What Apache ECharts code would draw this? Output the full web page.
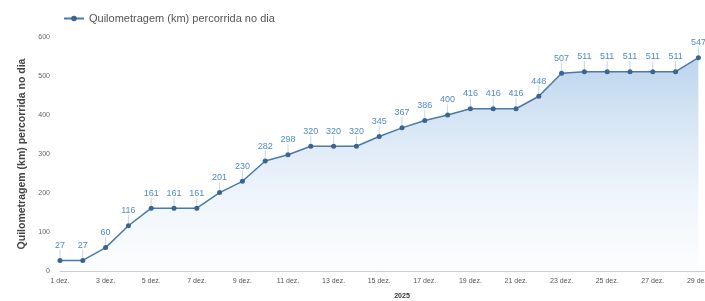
<!DOCTYPE html>
<html>
<head>
<meta charset="utf-8">
<script src="https://cdn.jsdelivr.net/npm/echarts@6/dist/echarts.min.js"></script>
<style>
    html, body { margin: 0; padding: 0; background: #fff; }
    #main { width: 705px; height: 301px; }
</style>
</head>
<body>
<div id="main"></div>
<script type="text/javascript">
    // dias do mês (o gráfico original vai até 31 dez., cortado à direita)
    var dias = ['1 dez.', '2 dez.', '3 dez.', '4 dez.', '5 dez.', '6 dez.', '7 dez.', '8 dez.',
        '9 dez.', '10 dez.', '11 dez.', '12 dez.', '13 dez.', '14 dez.', '15 dez.', '16 dez.',
        '17 dez.', '18 dez.', '19 dez.', '20 dez.', '21 dez.', '22 dez.', '23 dez.', '24 dez.',
        '25 dez.', '26 dez.', '27 dez.', '28 dez.', '29 dez.', '30 dez.', '31 dez.'];

    // quilometragem acumulada
    var km = [27, 27, 60, 116, 161, 161, 161, 201, 230, 282, 298, 320, 320, 320, 345,
        367, 386, 400, 416, 416, 416, 448, 507, 511, 511, 511, 511, 511, 547];

    var nomeSerie = 'Quilometragem (km) percorrida no dia';
    var nomeAno = '2025';

    var myChart = echarts.init(document.getElementById('main'));

    var option = {
        animation: false,
        textStyle: { fontFamily: 'Liberation Sans, Arial, sans-serif' },
        legend: {
            left: 58,
            top: 8,
            itemWidth: 20,
            itemHeight: 7,
            itemGap: 6,
            textStyle: { fontSize: 11, color: '#555' },
            data: [nomeSerie]
        },
        grid: {
            left: 60,
            right: -39,
            top: 37,
            bottom: 30,
            outerBoundsMode: 'none',
            containLabel: false
        },
        xAxis: {
            type: 'category',
            data: dias,
            boundaryGap: false,
            name: nomeAno,
            nameLocation: 'middle',
            nameGap: 22,
            nameTextStyle: { fontSize: 7, fontWeight: 'bold', color: '#333' },
            axisLine: { lineStyle: { color: '#ccc' } },
            axisTick: { show: false },
            axisLabel: { interval: 1, fontSize: 7, color: '#555', margin: 7 }
        },
        yAxis: {
            type: 'value',
            min: 0,
            max: 600,
            interval: 100,
            name: nomeSerie,
            nameLocation: 'middle',
            nameGap: 30,
            nameTextStyle: { fontSize: 10.5, fontWeight: 'bold', color: '#444' },
            axisLabel: { fontSize: 7, color: '#666', margin: 10 },
            splitLine: { show: false }
        },
        series: [
            {
                name: nomeSerie,
                type: 'line',
                data: km,
                symbol: 'circle',
                symbolSize: 5,
                lineStyle: { color: '#4a7aa6', width: 1.5 },
                itemStyle: { color: '#3a6590' },
                label: {
                    show: true,
                    position: 'top',
                    distance: 3,
                    fontSize: 9,
                    color: '#4f8cc4'
                },
                labelLayout: { dy: -5 },
                labelLine: { show: true, lineStyle: { color: '#9fb8d0', width: 0.6 } },
                areaStyle: {
                    color: new echarts.graphic.LinearGradient(0, 0, 0, 1, [
                        { offset: 0, color: 'rgba(140,182,224,0.85)' },
                        { offset: 1, color: 'rgba(230,240,250,0.2)' }
                    ])
                }
            }
        ]
    };

    myChart.setOption(option);
</script>
</body>
</html>
